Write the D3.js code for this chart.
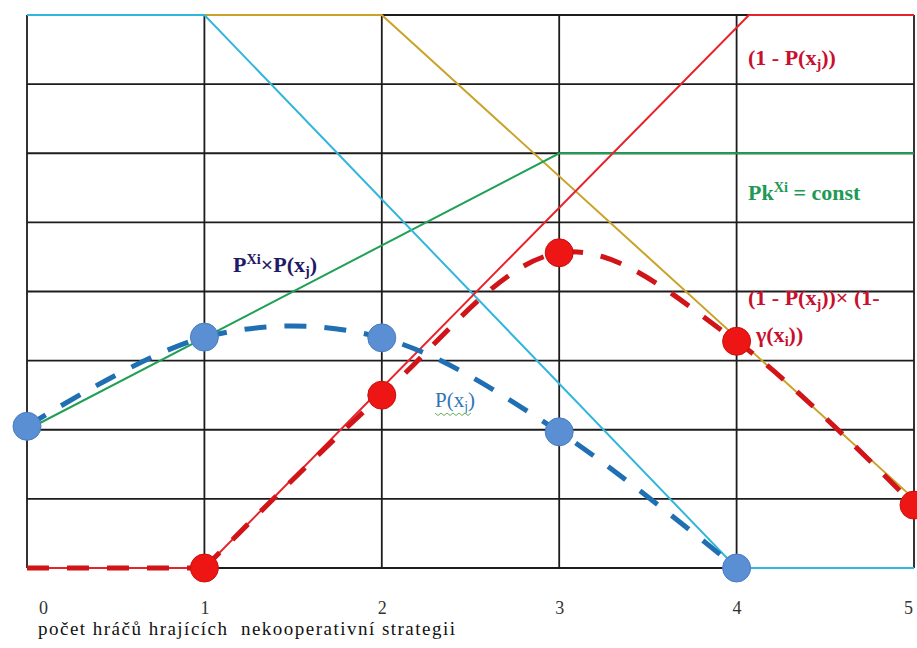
<!DOCTYPE html>
<html>
<head>
<meta charset="utf-8">
<script src="https://cdn.jsdelivr.net/npm/d3@7"></script>
<style>
  html, body { margin: 0; padding: 0; background: #fff; }
  svg { display: block; }
</style>
</head>
<body>
<svg id="chart" width="917" height="648"></svg>
<script>
// ---- data ----
const xTicks = [0, 1, 2, 3, 4, 5];
const yGrid = [0, 1, 2, 3, 4, 5, 6, 7, 8];
const xTitle = "počet hráčů hrajících  nekooperativní strategii";

// P(x_j) solid (cyan)
const cyanX = [0, 1, 4, 5];
const cyanY = [8, 8, 0, 0];
// gold solid
const goldX = [1, 2, 5];
const goldY = [8, 8, 1];
// Pk^Xi = const (green)
const greenX = [0, 3, 5];
const greenY = [2, 6, 6];
// (1 - P(x_j)) (red solid)
const redX = [0, 1, 4.07, 5];
const redY = [0, 0, 8, 8];
// P^Xi × P(x_j) (blue dashed, smoothed)
const blueX = [0, 1, 2, 3, 4];
const blueY = [2.05, 3.34, 3.33, 1.97, 0];
// (1 - P(x_j)) × (1 - γ(x_i)) (red dashed, smoothed from x = 1)
const redDashX = [0, 1, 2, 3, 4, 5];
const redDashY = [0, 0, 2.5, 4.56, 3.28, 0.91];
const redMarkerFrom = 1;

// ---- drawing ----
const FONT = "Liberation Serif";
const svg = d3.select("#chart").attr("font-family", FONT);
const x = d3.scaleLinear().domain([0, 5]).range([27, 914]);
const y = d3.scaleLinear().domain([0, 8]).range([568, 15]);

const zip = (xs, ys) => xs.map((v, i) => [v, ys[i]]);
const line = d3.line().x(d => x(d[0])).y(d => y(d[1]));
const smooth = d3.line().x(d => x(d[0])).y(d => y(d[1])).curve(d3.curveCardinal.tension(0));

// grid
const grid = svg.append("g");
grid.selectAll("line.v").data(xTicks).join("line")
  .attr("x1", d => x(d)).attr("x2", d => x(d))
  .attr("y1", y(8)).attr("y2", y(0))
  .attr("stroke", "#1c1c1c").attr("stroke-width", 1.8);
grid.selectAll("line.h").data(yGrid).join("line")
  .attr("y1", d => y(d)).attr("y2", d => y(d))
  .attr("x1", x(0)).attr("x2", x(5))
  .attr("stroke", "#1c1c1c").attr("stroke-width", 1.8);

// x axis tick labels
const axis = d3.axisBottom(x).tickValues(xTicks).tickSize(0).tickPadding(0).tickFormat(d3.format("d"));
const gx = svg.append("g").attr("transform", `translate(0, ${y(0)})`).call(axis);
gx.attr("font-family", FONT);
gx.select(".domain").remove();
gx.selectAll("text")
  .attr("y", 46).attr("dy", 0)
  .attr("dx", d => d === 0 ? 16 : (d === 5 ? -6 : 0))
  .attr("font-family", FONT)
  .attr("font-size", 18).attr("fill", "#333");

svg.append("text").attr("x", 38).attr("y", 635)
  .attr("font-family", FONT)
  .attr("font-size", 19).attr("fill", "#111")
  .attr("textLength", 417).attr("lengthAdjust", "spacing")
  .style("white-space", "pre")
  .text(xTitle);

// solid lines
svg.append("path").datum(zip(goldX, goldY)).attr("d", line)
  .attr("fill", "none").attr("stroke", "#C9A227").attr("stroke-width", 2);
svg.append("path").datum(zip(greenX, greenY)).attr("d", line)
  .attr("fill", "none").attr("stroke", "#1FA055").attr("stroke-width", 2);
svg.append("path").datum(zip(cyanX, cyanY)).attr("d", line)
  .attr("fill", "none").attr("stroke", "#33B6DD").attr("stroke-width", 2);
svg.append("path").datum(zip(redX, redY)).attr("d", line)
  .attr("fill", "none").attr("stroke", "#E8222A").attr("stroke-width", 2);

// dashed curves
svg.append("path").datum(zip(blueX, blueY)).attr("d", smooth)
  .attr("fill", "none").attr("stroke", "#1F6FB2").attr("stroke-width", 5)
  .attr("stroke-dasharray", "22,18");
const redPts = zip(redDashX, redDashY);
svg.append("path").datum(redPts.slice(0, redMarkerFrom + 1)).attr("d", line)
  .attr("fill", "none").attr("stroke", "#D01418").attr("stroke-width", 5)
  .attr("stroke-dasharray", "22,18");
svg.append("path").datum(redPts.slice(redMarkerFrom)).attr("d", smooth)
  .attr("fill", "none").attr("stroke", "#D01418").attr("stroke-width", 5)
  .attr("stroke-dasharray", "22,18");

// markers
svg.append("g").selectAll("circle").data(zip(blueX, blueY)).join("circle")
  .attr("cx", d => x(d[0])).attr("cy", d => y(d[1])).attr("r", 14)
  .attr("fill", "#5B8FD4").attr("stroke", "#4A7DC0").attr("stroke-width", 1);
svg.append("g").selectAll("circle").data(redPts.slice(redMarkerFrom)).join("circle")
  .attr("cx", d => x(d[0])).attr("cy", d => y(d[1])).attr("r", 14)
  .attr("fill", "#EE1515").attr("stroke", "#C81010").attr("stroke-width", 1);

// labels
function label(xp, yp, parts, color, size, weight) {
  const t = svg.append("text").attr("x", xp).attr("y", yp)
    .attr("font-family", FONT)
    .attr("fill", color).attr("font-size", size).attr("font-weight", weight || "bold");
  parts.forEach(p => {
    const ts = t.append("tspan").text(p.t);
    if (p.sub) ts.attr("font-size", size * 0.65).attr("dy", 4);
    else if (p.sup) ts.attr("font-size", size * 0.65).attr("dy", -8);
    if (p.back) ts.attr("dy", p.back);
  });
  return t;
}
const red = "#C8102E";
label(748, 65, [{t: "(1 - P(x"}, {t: "j", sub: true}, {t: "))", back: -4}], red, 22);
label(748, 200, [{t: "Pk"}, {t: "Xi", sup: true}, {t: " = const", back: 8}], "#1E9A55", 22);
label(233, 272, [{t: "P"}, {t: "Xi", sup: true}, {t: "×P(x", back: 8}, {t: "j", sub: true}, {t: ")", back: -4}], "#1F1A66", 22);
label(748, 305, [{t: "(1 - P(x"}, {t: "j", sub: true}, {t: "))× (1-", back: -4}], red, 22);
label(756, 342, [{t: "γ(x"}, {t: "i", sub: true}, {t: "))", back: -4}], red, 22);
label(435, 407, [{t: "P(x"}, {t: "j", sub: true}, {t: ")", back: -4}], "#2E75B6", 21, "normal");

// wavy underline under P(x_j)
const wave = d3.range(0, 39, 3).map((v, i) => [435 + v, 414 + (i % 2 ? 1.5 : -1)]);
svg.append("path").datum(wave).attr("d", d3.line())
  .attr("fill", "none").attr("stroke", "#6BAF5A").attr("stroke-width", 1);
</script>
</body>
</html>
